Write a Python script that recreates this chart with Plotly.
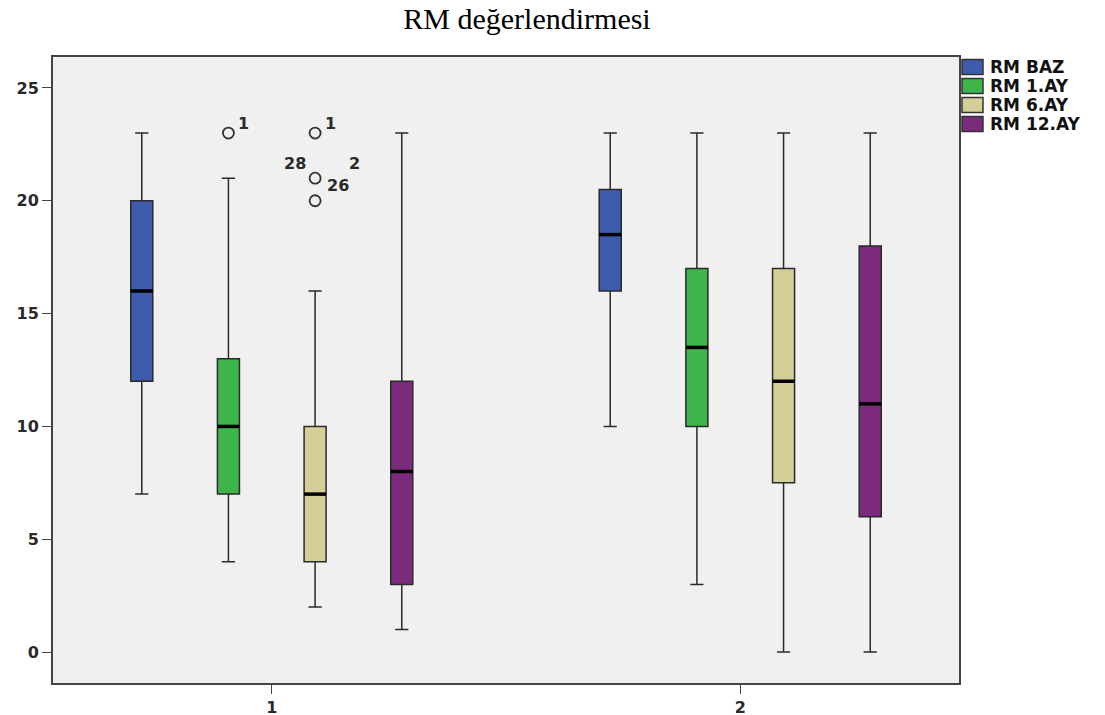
import plotly.graph_objects as go

series_names = ["RM BAZ", "RM 1.AY", "RM 6.AY", "RM 12.AY"]
groups = [1, 2]
colors = ["#3F5BAD", "#3DB54B", "#D4CF96", "#7B2A7D"]

# box statistics per series: [group1, group2]
lower = {"RM BAZ": [7, 10], "RM 1.AY": [4, 3], "RM 6.AY": [2, 0], "RM 12.AY": [1, 0]}
q1 = {"RM BAZ": [12, 16], "RM 1.AY": [7, 10], "RM 6.AY": [4, 7.5], "RM 12.AY": [3, 6]}
median = {"RM BAZ": [16, 18.5], "RM 1.AY": [10, 13.5], "RM 6.AY": [7, 12], "RM 12.AY": [8, 11]}
q3 = {"RM BAZ": [20, 20.5], "RM 1.AY": [13, 17], "RM 6.AY": [10, 17], "RM 12.AY": [12, 18]}
upper = {"RM BAZ": [23, 23], "RM 1.AY": [21, 23], "RM 6.AY": [16, 23], "RM 12.AY": [23, 23]}

# outliers: (series, group, value, labels)
outliers = [
    ("RM 1.AY", 1, 23, ["1"]),
    ("RM 6.AY", 1, 23, ["1"]),
    ("RM 6.AY", 1, 21, ["28", "2"]),
    ("RM 6.AY", 1, 20, ["26"]),
]

spacing = 0.185
box_w = 0.047
TXT = dict(family="DejaVu Sans", size=16, color="#2a2a2a", weight="bold")

def pos(series, g):
    i = series_names.index(series)
    return g + (i - 1.5) * spacing

fig = go.Figure()
for name, col in zip(series_names, colors):
    xs = [pos(name, g) for g in groups]
    fig.add_trace(go.Box(
        x=xs, q1=q1[name], median=median[name], q3=q3[name],
        lowerfence=lower[name], upperfence=upper[name],
        name=name, width=box_w, whiskerwidth=0.6,
        fillcolor=col, line=dict(color="#2a2a2a", width=1.5),
        boxpoints=False, showlegend=False,
    ))
    for x, m in zip(xs, median[name]):
        fig.add_shape(type="line", x0=x - box_w / 2, x1=x + box_w / 2, y0=m, y1=m,
                      line=dict(color="black", width=3.5), layer="above")

for s, g, v, labels in outliers:
    x = pos(s, g)
    fig.add_trace(go.Scatter(x=[x], y=[v], mode="markers", showlegend=False,
                             marker=dict(symbol="circle-open", size=11,
                                         color="#333333", line=dict(width=1.8))))
    if labels == ["1"]:
        fig.add_annotation(x=x, y=v, text="1", showarrow=False, xshift=15, yshift=10, font=TXT)
    elif labels == ["28", "2"]:
        fig.add_annotation(x=x, y=v, text="28", showarrow=False, xshift=-20, yshift=15, font=TXT)
        fig.add_annotation(x=x, y=v, text="2", showarrow=False, xshift=39, yshift=15, font=TXT)
    else:
        fig.add_annotation(x=x, y=v, text=labels[0], showarrow=False, xshift=23, yshift=15, font=TXT)

# page offset of the figure inside the browser page
OFF = 8
W, H = 1105, 715
L, R, T, B = 53 - OFF, 146 + OFF, 57 - OFF, 32 + OFF
pw, ph = W - L - R, H - T - B

def px_x(sx):
    return (sx - OFF - L) / pw

def px_y(sy):
    return (H - B - (sy - OFF)) / ph

# custom legend (swatch rectangles + labels)
for k, (name, col) in enumerate(zip(series_names, colors)):
    yc = 67 + 19 * k
    fig.add_shape(type="rect", xref="paper", yref="paper",
                  x0=px_x(962), x1=px_x(983), y0=px_y(yc + 7.5), y1=px_y(yc - 7.5),
                  fillcolor=col, line=dict(color="#333333", width=1.5))
    fig.add_annotation(xref="paper", yref="paper", x=px_x(988), y=px_y(yc),
                       xanchor="left", yanchor="middle", text=name, showarrow=False,
                       font=dict(family="DejaVu Sans", size=17, color="#111", weight="bold"))

fig.update_layout(
    width=W, height=H,
    paper_bgcolor="white", plot_bgcolor="#F0F0F0",
    margin=dict(l=L, r=R, t=T, b=B),
    title=dict(text="RM değerlendirmesi", x=(527 - OFF) / W, xanchor="center",
               y=1, yanchor="top", pad=dict(t=0),
               font=dict(family="Liberation Serif", size=30, color="black")),
    showlegend=False,
    xaxis=dict(range=[0.533, 2.467], tickvals=groups, ticktext=[str(g) for g in groups],
               showgrid=False, zeroline=False, showline=True, mirror=True, automargin=False,
               linecolor="#444", linewidth=2, ticks="outside", ticklen=9,
               tickcolor="#444", tickfont=TXT),
    yaxis=dict(range=[-1.37, 26.37], tickvals=[0, 5, 10, 15, 20, 25],
               showgrid=False, zeroline=False, showline=True, mirror=True, automargin=False,
               linecolor="#444", linewidth=2, ticks="outside", ticklen=9,
               tickcolor="#444", tickfont=TXT),
)

fig.write_html("out.html")
